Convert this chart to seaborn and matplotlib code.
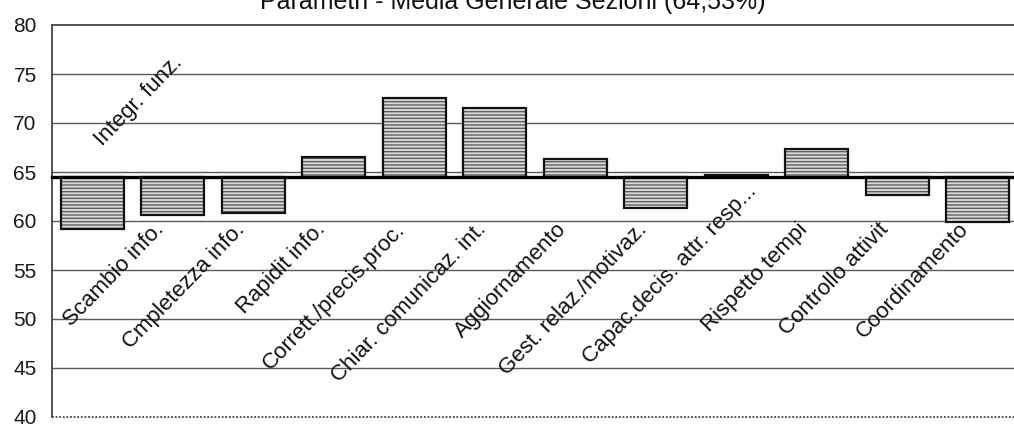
import numpy as np
import pandas as pd
import matplotlib
matplotlib.use("Agg")
import matplotlib.pyplot as plt
import seaborn as sns

# Punteggi medi per parametro, con la media generale delle sezioni come linea di base
categories = [
    "Integr. funz.", "Scambio info.", "Cmpletezza info.", "Rapidit info.",
    "Corrett./precis.proc.", "Chiar. comunicaz. int.", "Aggiornamento",
    "Gest. relaz./motivaz.", "Capac.decis. attr. resp...", "Rispetto tempi",
    "Controllo attivit", "Coordinamento",
]
scores = [59.2, 60.6, 60.8, 66.5, 72.6, 71.5, 66.3, 61.3, 64.7, 67.3, 62.7, 59.9]
overall_mean = 64.53
y_ticks = [40, 45, 50, 55, 60, 65, 70, 75, 80]
title = "Parametri - Media Generale Sezioni (64,53%)"

sns.set_style("white")
plt.rcParams["font.family"] = ["Liberation Sans", "DejaVu Sans"]
plt.rcParams["hatch.linewidth"] = 1.0

df = pd.DataFrame({
    "parametro": categories,
    "scarto": np.array(scores) - overall_mean,
})

fig = plt.figure(figsize=(10.14, 4.24), dpi=100)
ax = fig.add_axes([52 / 1014, 7 / 424, 966 / 1014, 392 / 424])

# horizontal reference lines
for v in y_ticks[1:-1]:
    ax.axhline(v, color="#5a5a5a", lw=1.0, zorder=0)

# hatched fill, then black outlines, both rising/falling from the mean
sns.barplot(data=df, x="parametro", y="scarto", bottom=overall_mean, width=0.78,
            color="#d8d8d8", edgecolor="#5e5e5e", hatch="-----", linewidth=0,
            errorbar=None, saturation=1, ax=ax, zorder=1)
sns.barplot(data=df, x="parametro", y="scarto", bottom=overall_mean, width=0.78,
            fill=False, edgecolor="#111111", linewidth=1.6,
            errorbar=None, ax=ax, zorder=2)

n = len(categories)
ax.set_xlim(-0.5, n - 0.5)
ax.set_ylim(40, 80)
ax.set_yticks(y_ticks)
ax.set_xlabel("")
ax.set_ylabel("")
ax.tick_params(axis="y", direction="out", length=6, width=1.2, color="#333333",
               labelsize=15, labelcolor="#1a1a1a", pad=5)

# category axis crosses at the overall mean
ax.spines["bottom"].set_position(("data", overall_mean))
ax.spines["bottom"].set_linewidth(2.4)
ax.spines["bottom"].set_color("black")
ax.spines["bottom"].set_zorder(3)
ax.set_xticks(np.arange(n + 1) - 0.5, minor=True)
ax.tick_params(axis="x", which="major", length=0, labelbottom=False)
ax.tick_params(axis="x", which="minor", direction="out", length=6, width=2,
               color="black")

for side in ["top", "left"]:
    ax.spines[side].set_linestyle((0, (1, 1)))
    ax.spines[side].set_color("#444444")
    ax.spines[side].set_linewidth(1.3)
ax.spines["right"].set_visible(False)
ax.axhline(40, color="#444444", lw=1.3, ls=(0, (1, 1)), clip_on=False, zorder=3)

# rotated category names drawn inside the plot area
label_anchor = {
    "Integr. funz.": (1.13, 76.1),
    "Capac.decis. attr. resp...": (8.26, 63.0),
}
for i, name in enumerate(categories):
    x, y = label_anchor.get(name, (i - 0.1, 59.1))
    ax.text(x, y, name, rotation=46, rotation_mode="anchor", ha="right",
            va="baseline", fontsize=16, color="#111111")

fig.text(0.506, 1 - 9 / 424, title, ha="center", va="baseline", fontsize=18,
         color="#111111")

fig.savefig("out.png", dpi=100)
